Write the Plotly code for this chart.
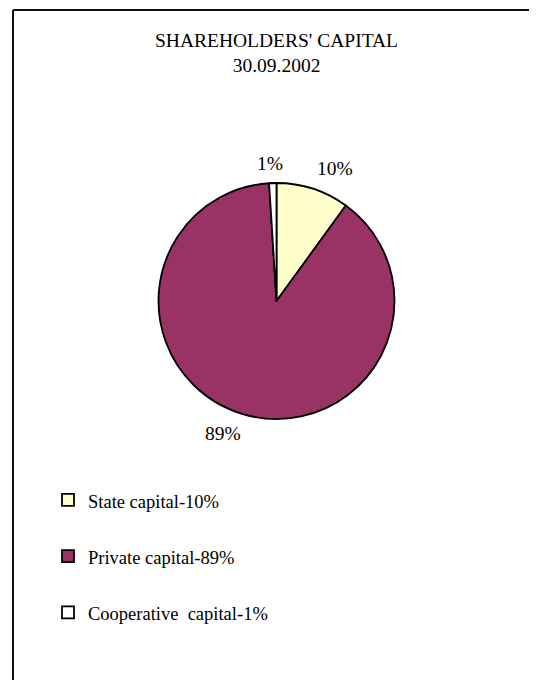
import plotly.graph_objects as go

# ---- data ----
categories = ["State capital", "Private capital", "Cooperative\u00a0 capital"]
values = [10, 89, 1]
colors = ["#FFFFCC", "#993366", "#FFFFFF"]
title_lines = ["SHAREHOLDERS' CAPITAL", "30.09.2002"]

W, H = 537, 680
OFF = 8  # page body margin
FONT = "Liberation Serif"

def px_x(x):
    return (x - OFF) / W

def px_y(y):
    return 1 - (y - OFF) / H

legend_labels = [
    f"<span style='font-size:18.5px'>{c}-{v}%</span><br> " for c, v in zip(categories, values)
]

# pie geometry (pixels)
cx, cy, r = 276.5, 301, 118

fig = go.Figure(
    go.Pie(
        labels=legend_labels,
        values=values,
        sort=False,
        direction="clockwise",
        rotation=0,
        marker=dict(colors=colors, line=dict(color="#000000", width=1.8)),
        textinfo="none",
        hovertext=[f"{c}: {v}%" for c, v in zip(categories, values)],
        hoverinfo="text",
        domain=dict(x=[px_x(cx - r), px_x(cx + r)], y=[px_y(cy + r), px_y(cy - r)]),
    )
)

# percentage labels outside the slices
label_pos = [(335, 168), (223, 433), (270, 164)]
annotations = []
for v, (lx, ly) in zip(values, label_pos):
    annotations.append(
        dict(
            x=px_x(lx), y=px_y(ly), xref="paper", yref="paper",
            text=f"{v}%", showarrow=False, xanchor="center", yanchor="middle",
            font=dict(family=FONT, size=19.5, color="#000000"),
        )
    )

fig.update_layout(
    width=W, height=H,
    margin=dict(l=0, r=0, t=0, b=0),
    paper_bgcolor="#FFFFFF",
    plot_bgcolor="#FFFFFF",
    font=dict(family=FONT, color="#000000"),
    title=dict(
        text="<br>".join(title_lines),
        x=px_x(276.5), xanchor="center",
        y=px_y(47), yanchor="middle", yref="paper",
        font=dict(family=FONT, size=19.5, color="#000000"),
    ),
    annotations=annotations,
    showlegend=True,
    legend=dict(
        x=px_x(48), xanchor="left",
        y=px_y(480), yanchor="top",
        font=dict(family=FONT, size=20.5, color="#000000"),
        valign="top",
        bgcolor="rgba(0,0,0,0)",
        traceorder="normal",
    ),
    shapes=[
        dict(type="line", xref="paper", yref="paper",
             x0=px_x(13), x1=1.0, y0=px_y(10), y1=px_y(10),
             line=dict(color="#111111", width=2)),
        dict(type="line", xref="paper", yref="paper",
             x0=px_x(13), x1=px_x(13), y0=px_y(10), y1=0.0,
             line=dict(color="#111111", width=2)),
    ],
)

fig.write_html("out.html")
